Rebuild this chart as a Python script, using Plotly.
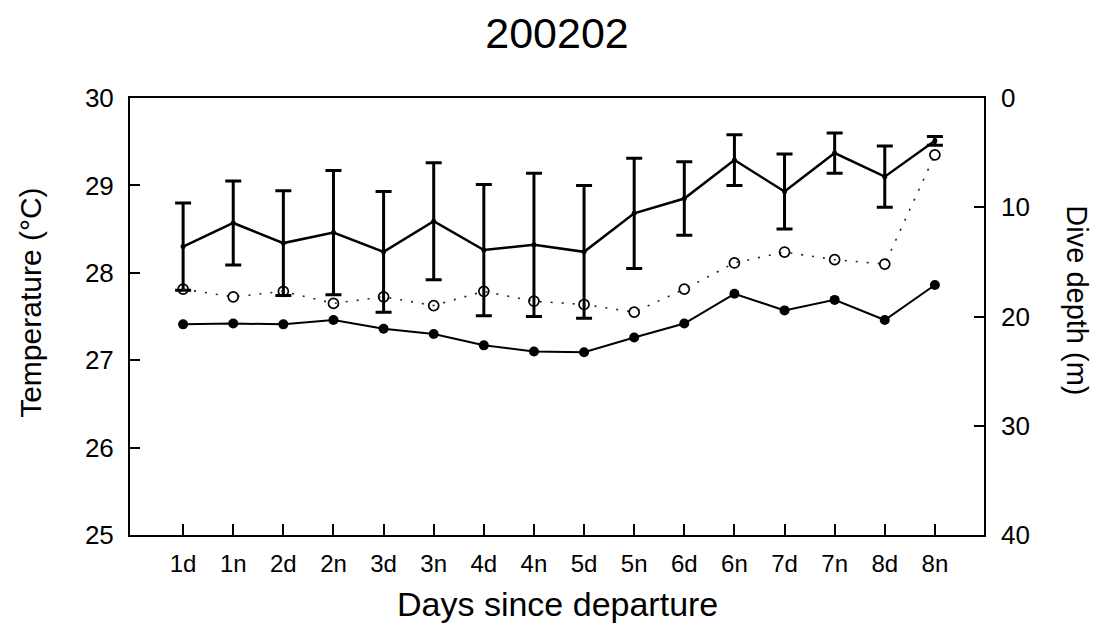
import plotly.graph_objects as go

# ---- data ----
periods = ["1d", "1n", "2d", "2n", "3d", "3n", "4d", "4n",
           "5d", "5n", "6d", "6n", "7d", "7n", "8d", "8n"]

# mean temperature (left axis, °C) with SD error bars
temp_mean = [28.30, 28.57, 28.34, 28.46, 28.24, 28.59, 28.26, 28.32,
             28.24, 28.68, 28.85, 29.29, 28.93, 29.37, 29.10, 29.51]
temp_sd = [0.50, 0.48, 0.60, 0.71, 0.69, 0.67, 0.75, 0.82,
           0.76, 0.63, 0.42, 0.29, 0.43, 0.23, 0.35, 0.05]

# second temperature series (left axis, °C) – filled circles
temp_low = [27.41, 27.42, 27.41, 27.46, 27.36, 27.30, 27.17, 27.10,
            27.09, 27.26, 27.42, 27.76, 27.57, 27.69, 27.46, 27.86]

# dive depth (right axis, m, reversed) – open circles
dive_depth = [17.5, 18.2, 17.7, 18.8, 18.2, 19.0, 17.7, 18.6,
              18.9, 19.6, 17.5, 15.1, 14.1, 14.8, 15.2, 5.2]

FONT = "Liberation Sans, Arial, sans-serif"

fig = go.Figure()

fig.add_trace(go.Scatter(
    x=periods, y=dive_depth, yaxis="y2", mode="lines+markers",
    line=dict(color="#222222", width=1.6, dash="2px,9px"),
    marker=dict(symbol="circle-open", size=10, color="black", line=dict(width=1.7)),
    showlegend=False))

fig.add_trace(go.Scatter(
    x=periods, y=temp_low, mode="lines+markers",
    line=dict(color="black", width=2),
    marker=dict(symbol="circle", size=10, color="black"),
    showlegend=False))

fig.add_trace(go.Scatter(
    x=periods, y=temp_mean, mode="lines+markers",
    line=dict(color="black", width=2.5),
    marker=dict(symbol="circle", size=5, color="black"),
    error_y=dict(type="data", array=temp_sd, visible=True,
                 color="black", thickness=3, width=8),
    showlegend=False))

fig.update_layout(
    width=1105, height=637,
    margin=dict(l=129.5, r=121, t=97.5, b=102),
    paper_bgcolor="white", plot_bgcolor="white",
    font=dict(family=FONT, color="black"),
    title=dict(text="200202", x=0.5, xref="paper", y=1 - 33 / 637,
               yref="container", xanchor="center", yanchor="middle",
               font=dict(size=43, family=FONT, color="black")),
    xaxis=dict(type="category", categoryorder="array", categoryarray=periods,
               range=[-1.06, 15.98], showgrid=False, zeroline=False,
               showline=True, linecolor="black", linewidth=2, mirror=True,
               ticks="inside", ticklen=11, tickwidth=1.5, tickcolor="black",
               ticklabelstandoff=6,
               tickfont=dict(size=24, family=FONT, color="black")),
    yaxis=dict(range=[25, 30], tickvals=[25, 26, 27, 28, 29, 30],
               showgrid=False, zeroline=False,
               showline=True, linecolor="black", linewidth=2, mirror=True,
               ticks="inside", ticklen=10, tickwidth=1.5, tickcolor="black",
               ticklabelstandoff=9,
               tickfont=dict(size=26, family=FONT, color="black")),
    yaxis2=dict(range=[40, 0], tickvals=[0, 10, 20, 30, 40],
                overlaying="y", side="right", showgrid=False, zeroline=False,
                showline=False,
                ticks="inside", ticklen=10, tickwidth=1.5, tickcolor="black",
                ticklabelstandoff=16,
                tickfont=dict(size=26, family=FONT, color="black")),
    annotations=[
        dict(text="Days since departure", xref="paper", yref="paper",
             x=0.5, y=(535 - 604) / 437.5, xanchor="center", yanchor="middle",
             showarrow=False, font=dict(size=34, family=FONT, color="black")),
        dict(text="Temperature (°C)", xref="paper", yref="paper",
             x=(30 - 129.5) / 854.5, y=(535 - 303) / 437.5, textangle=-90,
             xanchor="center", yanchor="middle",
             showarrow=False, font=dict(size=30, family=FONT, color="black")),
        dict(text="Dive depth (m)", xref="paper", yref="paper",
             x=(1077 - 129.5) / 854.5, y=(535 - 300) / 437.5, textangle=90,
             xanchor="center", yanchor="middle",
             showarrow=False, font=dict(size=29, family=FONT, color="black")),
    ],
)

fig.write_html("out.html")
